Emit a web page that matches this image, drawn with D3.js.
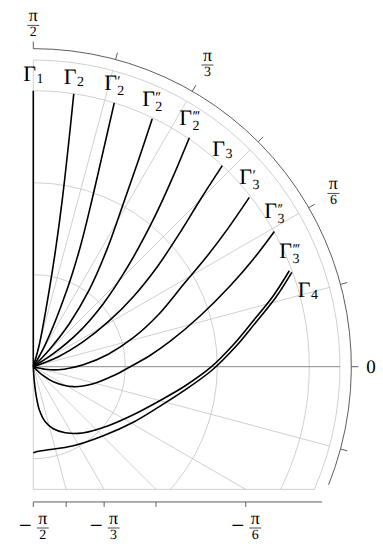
<!DOCTYPE html>
<meta charset="utf-8">
<title>Courbes Γ en coordonnées polaires</title>

<style>
	body {
		margin: 0;
		background: #fff;
	}

	svg {
		display: block;
		font-family: 'Liberation Serif', 'DejaVu Serif', serif;
		text-rendering: geometricPrecision;
	}

	svg text {
		fill: #000;
	}

	.grille {
		fill: none;
		stroke: #c4c4c4;
		stroke-width: 0.8;
	}

	.axe {
		fill: none;
		stroke: #5e5e5e;
		stroke-width: 1;
	}

	.courbe {
		fill: none;
		stroke: #000;
		stroke-width: 1.6;
		stroke-linejoin: round;
	}
</style>

<body>
	<div id="chart"></div>

	<script src="https://d3js.org/d3.v7.min.js"></script>
	<script>
		// -----DONNÉES-----
		var rMax = 10 / 3,
			yMin = -4 / 3;
		var gridRadii = [1, 2, 3];
		var gridAngles = [-75, -60, -45, -30, -15, 15, 30, 45, 60, 75];
		var arcTicks = [90, 75, 60, 45, 30, 15, 0, -15];
		var arcLabelAngles = [90, 60, 30, 0];
		var arcLabels = ["π/2", "π/3", "π/6", "0"];
		var bottomTicks = [-90, -75, -60, -45, -30];
		var bottomLabelAngles = [-90, -60, -30];
		var bottomLabels = ["−π/2", "−π/3", "−π/6"];

		// courbes (x, y) dans l'unité des cercles de la grille
		var G1 = [[0, 0], [0, 3]];
		var G2 = [[0, 0], [0.065, 0.239], [0.174, 0.837], [0.25, 1.326], [0.315, 1.815], [0.38, 2.391], [0.44, 2.965]];
		var G2p = [[0, 0], [0.13, 0.24], [0.366, 0.837], [0.511, 1.304], [0.638, 1.815], [0.761, 2.348], [0.88, 2.868]];
		var G2pp = [[0, 0], [0.174, 0.185], [0.391, 0.467], [0.609, 0.837], [0.804, 1.283], [0.978, 1.772], [1.141, 2.239], [1.293, 2.696]];
		var G2ppp = [[0, 0], [0.217, 0.141], [0.489, 0.37], [0.761, 0.685], [1.033, 1.098], [1.304, 1.598], [1.5, 2.022], [1.696, 2.489]];
		var G3 = [[0, 0], [0.272, 0.109], [0.543, 0.272], [0.815, 0.489], [1.087, 0.761], [1.348, 1.087], [1.587, 1.446], [1.815, 1.815], [2.054, 2.185]];
		var G3p = [[0, 0], [0.13, -0.027], [0.272, -0.033], [0.543, 0.022], [0.815, 0.136], [1.087, 0.315], [1.359, 0.565], [1.63, 0.891], [1.87, 1.178], [2.109, 1.493], [2.348, 1.84]];
		var G3pp = [[0, 0], [0.109, -0.098], [0.217, -0.163], [0.435, -0.217], [0.652, -0.185], [0.87, -0.098], [1.054, 0], [1.272, 0.125], [1.489, 0.277], [1.815, 0.554], [2.141, 0.88], [2.391, 1.168], [2.62, 1.47]];
		var G3ppp = [[0, 0], [0.011, -0.163], [0.033, -0.326], [0.065, -0.467], [0.13, -0.598], [0.217, -0.674], [0.348, -0.717], [0.533, -0.72], [0.815, -0.641], [1.109, -0.511], [1.413, -0.348], [1.652, -0.207], [1.924, -0.011], [2.174, 0.239], [2.391, 0.5], [2.609, 0.772], [2.783, 1.043]];
		var G4 = [[0, -0.935], [0.033, -0.924], [0.13, -0.908], [0.435, -0.859], [0.761, -0.75], [1.087, -0.603], [1.359, -0.44], [1.63, -0.266], [1.945, -0.036], [2.198, 0.216], [2.416, 0.479], [2.635, 0.752], [2.81, 1.025]];

		var curves = [G1, G2, G2p, G2pp, G2ppp, G3, G3p, G3pp, G3ppp, G4];
		var curveSubs = ["1", "2", "2", "2", "2", "3", "3", "3", "3", "4"];
		var curvePrimes = [0, 0, 1, 2, 3, 0, 1, 2, 3, 0];

		// -----INITIALISATION-----
		var width = 383,
			height = 550,
			unit = 92,
			ox = 33.3,
			oy = 366.7;

		var x = d3.scaleLinear().domain([0, 1]).range([ox, ox + unit]);
		var y = d3.scaleLinear().domain([0, 1]).range([oy, oy - unit]);
		var rad = function (deg) { return deg * Math.PI / 180; };
		var polar = function (r, deg) {
			return [x(r * Math.cos(rad(deg))), y(r * Math.sin(rad(deg)))];
		};

		var svg = d3.select("#chart").append("svg")
			.attr("width", width)
			.attr("height", height);

		// contour de la zone : secteur coupé en bas par y = yMin
		var cutDeg = Math.asin(yMin / rMax) * 180 / Math.PI;
		var pTop = polar(rMax, 90),
			pCut = polar(rMax, cutDeg);
		var contour = "M" + x(0) + "," + y(yMin) +
			"L" + pTop[0] + "," + pTop[1] +
			"A" + unit * rMax + "," + unit * rMax + " 0 0 1 " + pCut[0] + "," + pCut[1] + "Z";

		svg.append("clipPath").attr("id", "zone")
			.append("path").attr("d", contour);

		var grid = svg.append("g").attr("clip-path", "url(#zone)");

		grid.selectAll(".cercle")
			.data(gridRadii)
			.enter().append("circle")
			.attr("class", "grille")
			.attr("cx", x(0))
			.attr("cy", y(0))
			.attr("r", function (d) { return x(d) - x(0); });

		grid.selectAll(".rayon")
			.data(gridAngles)
			.enter().append("line")
			.attr("class", "grille")
			.attr("x1", x(0)).attr("y1", y(0))
			.attr("x2", function (d) { return polar(rMax * 1.5, d)[0]; })
			.attr("y2", function (d) { return polar(rMax * 1.5, d)[1]; });

		svg.append("path").attr("class", "grille").attr("d", contour);

		// axe horizontal (angle 0)
		svg.append("line")
			.attr("x1", x(0)).attr("y1", y(0))
			.attr("x2", x(rMax)).attr("y2", y(0))
			.attr("stroke", "#8a8a8a").attr("stroke-width", 1);

		// -----AXE ANGULAIRE-----
		var rAxis = 3.457,
			arcEnd = -21.8;
		var a0 = polar(rAxis, 90),
			a1 = polar(rAxis, arcEnd);
		svg.append("path").attr("class", "axe")
			.attr("d", "M" + a0[0] + "," + a0[1] + "A" + unit * rAxis + "," + unit * rAxis + " 0 0 1 " + a1[0] + "," + a1[1]);

		svg.selectAll(".tick-arc")
			.data(arcTicks)
			.enter().append("line")
			.attr("class", "axe")
			.attr("x1", function (d) { return polar(rAxis, d)[0]; })
			.attr("y1", function (d) { return polar(rAxis, d)[1]; })
			.attr("x2", function (d) { return polar(rAxis + 0.076, d)[0]; })
			.attr("y2", function (d) { return polar(rAxis + 0.076, d)[1]; });

		// fraction π/n centrée en (cx, cy) = milieu de la barre
		function fraction(g, cx, cy, num, den) {
			g.append("text").attr("x", cx).attr("y", cy - 4)
				.attr("text-anchor", "middle").attr("font-size", 18)
				.attr("fill", "#000").text(num);
			g.append("line").attr("x1", cx - 6).attr("x2", cx + 6)
				.attr("y1", cy).attr("y2", cy)
				.attr("stroke", "#000").attr("stroke-width", 0.7);
			g.append("text").attr("x", cx).attr("y", cy + 11)
				.attr("text-anchor", "middle").attr("font-size", 14)
				.attr("fill", "#000").text(den);
		}

		var labels = svg.append("g");
		arcLabels.forEach(function (lab, i) {
			var deg = arcLabelAngles[i];
			var s = Math.sin(rad(deg));
			var rl = 3.67 + 0.04 * s * s + 0.1 * Math.abs(Math.sin(rad(2 * deg)));
			var p = polar(rl, deg);
			var parts = lab.split("/");
			if (parts.length == 2) {
				fraction(labels, p[0], p[1], parts[0], parts[1]);
			} else {
				labels.append("text").attr("x", p[0]).attr("y", p[1] + 6.5)
					.attr("text-anchor", "middle").attr("font-size", 19).text(lab);
			}
		});

		// -----AXE DU BAS-----
		var yAxis = -1.47;
		var xAt = function (deg) { return yMin / Math.tan(rad(deg)); };
		svg.append("line").attr("class", "axe")
			.attr("x1", x(0)).attr("x2", x(3.14))
			.attr("y1", y(yAxis)).attr("y2", y(yAxis));

		svg.selectAll(".tick-bas")
			.data(bottomTicks)
			.enter().append("line")
			.attr("class", "axe")
			.attr("x1", function (d) { return x(xAt(d)); })
			.attr("x2", function (d) { return x(xAt(d)); })
			.attr("y1", y(yAxis))
			.attr("y2", y(yAxis) + 5);

		bottomLabels.forEach(function (lab, i) {
			var tx = x(xAt(bottomLabelAngles[i]));
			var by = 528;
			var parts = lab.replace("−", "").split("/");
			labels.append("text").attr("x", tx - 1.5).attr("y", by + 4.5)
				.attr("text-anchor", "end").attr("font-size", 23).text("−");
			fraction(labels, tx + 9.5, by, parts[0], parts[1]);
		});

		// -----COURBES-----
		var line = d3.line()
			.x(function (d) { return x(d[0]); })
			.y(function (d) { return y(d[1]); })
			.curve(d3.curveCatmullRom.alpha(0.5));

		svg.selectAll(".courbe")
			.data(curves)
			.enter().append("path")
			.attr("class", "courbe")
			.attr("d", line);

		// étiquettes Γ (un seul texte : Γ, primes au-dessus de l'indice)
		curves.forEach(function (c, i) {
			var end = c[c.length - 1];
			var ex = x(end[0]),
				ey = y(end[1]);
			var g = svg.append("g");
			var t = g.append("text");
			var gam = t.append("tspan").attr("font-size", 22).text("Γ");
			var gw = gam.node().getComputedTextLength();
			var subDy = curvePrimes[i] ? 5 : 2;
			var pw = 0;
			if (curvePrimes[i]) {
				var tp = t.append("tspan").attr("font-size", 15)
					.attr("dx", 0.5).attr("dy", -4)
					.attr("letter-spacing", -1)
					.text("′".repeat(curvePrimes[i]));
				pw = tp.node().getComputedTextLength();
			}
			var sub = t.append("tspan").attr("font-size", 14)
				.attr("dx", curvePrimes[i] ? -pw : 0.5)
				.attr("dy", curvePrimes[i] ? 9 : 2)
				.text(curveSubs[i]);
			var w = gw + 0.5 + sub.node().getComputedTextLength();
			var tx, ty;
			if (i == curves.length - 1) {
				// Γ4 : en dessous à droite
				tx = ex + 6;
				ty = ey + 25;
			} else {
				tx = ex - w / 2;
				ty = ey - 8 - subDy;
			}
			g.attr("transform", "translate(" + tx + "," + ty + ")");
		});
	</script>
</body>
